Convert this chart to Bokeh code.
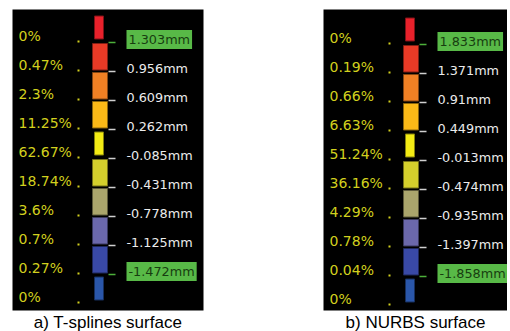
from bokeh.plotting import figure
from bokeh.layouts import row
from bokeh.models import Range1d, Title
from bokeh.embed import file_html
from bokeh.resources import INLINE
from bokeh.core.properties import value

# ---------------- data ----------------
a_pct = ["0%", "0.47%", "2.3%", "11.25%", "62.67%", "18.74%", "3.6%", "0.7%", "0.27%", "0%"]
a_mm = ["1.303mm", "0.956mm", "0.609mm", "0.262mm", "-0.085mm", "-0.431mm",
        "-0.778mm", "-1.125mm", "-1.472mm"]
b_pct = ["0%", "0.19%", "0.66%", "6.63%", "51.24%", "36.16%", "4.29%", "0.78%", "0.04%", "0%"]
b_mm = ["1.833mm", "1.371mm", "0.91mm", "0.449mm", "-0.013mm", "-0.474mm",
        "-0.935mm", "-1.397mm", "-1.858mm"]
band_colors = ["#e8212b", "#e93a26", "#f08024", "#fbb917", "#f3eb14",
               "#d4cf2c", "#aaa56c", "#6b68ab", "#3949a6", "#2a56a9"]
captions = ["a) T-splines surface", "b) NURBS surface"]

# ---------------- layout / style constants ----------------
FRAME_H = 301
ROW_PX = 29.0
NARROW_ROWS = {0, 4, 9}
PCT_X, DOT_X = 6, 66
WIDE_L, WIDE_R = 80, 95
NAR_L, NAR_R = 82, 91
TICK_L, TICK_R = 96, 103
MM_X = 114
PCT_COLOR = "#d2d01e"
MM_COLOR = "#ececec"
HL_FILL = "#58b947"
HL_TEXT = "#173d10"
TICK_COLOR = "#cfcfcf"
FONT = value("DejaVu Sans")


def darker(hexcol, f=0.55):
    r, g, b = (int(hexcol[i:i + 2], 16) for i in (1, 3, 5))
    return "#%02x%02x%02x" % (int(r * f), int(g * f), int(b * f))


def off(px):
    return px / ROW_PX


def make_panel(pct, mm, caption, frame_w, b_left, b_right, y_shift):
    top = -off(26 + y_shift)
    bot = top + FRAME_H / ROW_PX
    p = figure(frame_width=frame_w, frame_height=FRAME_H,
               min_border_left=b_left, min_border_right=b_right,
               min_border_top=9, min_border_bottom=0,
               x_range=Range1d(0, frame_w), y_range=Range1d(bot, top),
               x_axis_type=None, y_axis_type=None,
               toolbar_location=None, output_backend="svg")
    p.background_fill_color = "black"
    p.border_fill_color = "white"
    p.outline_line_color = None
    p.xgrid.visible = False
    p.ygrid.visible = False

    rows = list(range(len(pct)))
    lefts = [NAR_L if i in NARROW_ROWS else WIDE_L for i in rows]
    rights = [NAR_R if i in NARROW_ROWS else WIDE_R for i in rows]
    tops = [i - off(19.5 if i in NARROW_ROWS else 21) for i in rows]
    bots = [i + off(3.5 if i in NARROW_ROWS else 5.5) for i in rows]
    p.quad(left=lefts, right=rights, top=tops, bottom=bots,
           fill_color=band_colors, line_color=[darker(c) for c in band_colors],
           line_width=1)

    # percentage labels and dots
    p.text(x=[PCT_X] * len(rows), y=rows, text=pct, text_font=FONT,
           text_font_size="14px", text_color=PCT_COLOR,
           text_baseline="middle", text_align="left")
    p.scatter(x=[DOT_X] * len(rows), y=[i + off(6) for i in rows],
              marker="square", size=2, line_color=None, fill_color=PCT_COLOR)

    # ticks and mm labels
    mrows = list(range(len(mm)))
    hl = [0, len(mm) - 1]
    tick_cols = ["#4caf3a" if i in hl else TICK_COLOR for i in mrows]
    ty = [i + off(7) for i in mrows]
    p.segment(x0=[TICK_L] * len(mrows), x1=[TICK_R] * len(mrows),
              y0=ty, y1=ty, line_color=tick_cols, line_width=1.5)
    plain = [i for i in mrows if i not in hl]
    p.text(x=[MM_X] * len(plain), y=[i + off(4) for i in plain],
           text=[mm[i] for i in plain], text_font=FONT, text_font_size="12.8px",
           text_color=MM_COLOR, text_baseline="middle", text_align="left")
    p.text(x=[MM_X] * len(hl), y=[i + off(4) for i in hl],
           text=[mm[i] for i in hl], text_font=FONT, text_font_size="12.8px",
           text_color=HL_TEXT, text_baseline="middle", text_align="left",
           background_fill_color=HL_FILL, padding=2)

    p.add_layout(Title(text=caption, align="center", text_font="Liberation Sans",
                       text_font_size="17px", text_font_style="normal",
                       text_color="black", standoff=0), "below")
    return p


pa = make_panel(a_pct, a_mm, captions[0], 191, 12, 60, 0)
pb = make_panel(b_pct, b_mm, captions[1], 184, 60, 0, 2)
layout = row(pa, pb)
open("out.html", "w").write(file_html(layout, INLINE))
